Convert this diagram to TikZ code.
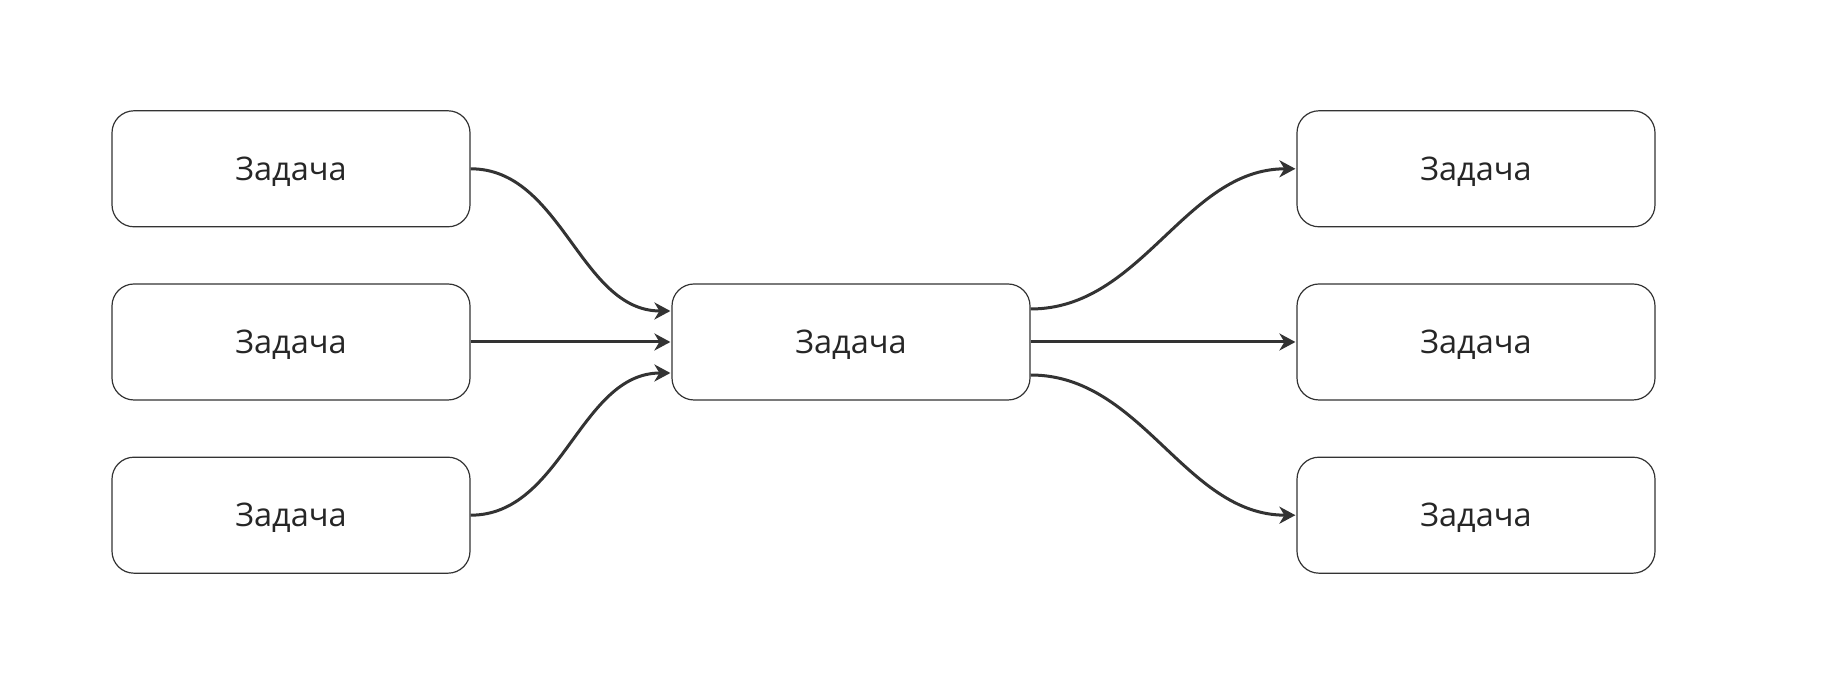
\documentclass[tikz,border=0pt]{standalone}
\usepackage{fontspec}
\setmainfont{Open Sans}
\usepackage{tikz}
\usetikzlibrary{arrows.meta}
\usetikzlibrary{positioning}

\begin{document}
\begin{tikzpicture}[->,>={Stealth[length=16pt,width=17pt,inset=5pt]},shorten >=1pt,x=1pt,y=1pt,node distance=56pt,
                    line width=3pt,draw=black!80,
                    task node/.style={rectangle,rounded corners=22pt,draw=black!80,line width=1.2pt,
                      minimum width=358pt,minimum height=116pt,text=black!85,text depth=0pt,
                      font=\fontsize{32.5}{38}\selectfont}]

\useasboundingbox (0,0) rectangle (1824,682);

\node[task node] (in2) at (291,340) {Задача};
\node[task node] (in1) [above=56pt of in2] {Задача};
\node[task node] (in3) [below=56pt of in2] {Задача};
\node[task node] (mid) at (851,340) {Задача};
\node[task node] (out2) at (1476,340) {Задача};
\node[task node] (out1) [above=56pt of out2] {Задача};
\node[task node] (out3) [below=56pt of out2] {Задача};

\coordinate (m1) at ([yshift=31pt]mid.west);
\coordinate (m3) at ([yshift=-31pt]mid.west);
\coordinate (n1) at ([yshift=33pt]mid.east);
\coordinate (n3) at ([yshift=-33pt]mid.east);

  \path
    (in1.east) edge [out=0,in=180,looseness=0.95] node {} (m1)
    (in2.east) edge [out=0,in=180] node {} (mid.west)
    (in3.east) edge [out=0,in=180,looseness=0.95] node {} (m3)
    (n1) edge [out=0,in=180,looseness=0.95] node {} (out1.west)
    (mid.east) edge [out=0,in=180] node {} (out2.west)
    (n3) edge [out=0,in=180,looseness=0.95] node {} (out3.west)
;
\end{tikzpicture}
\end{document}
